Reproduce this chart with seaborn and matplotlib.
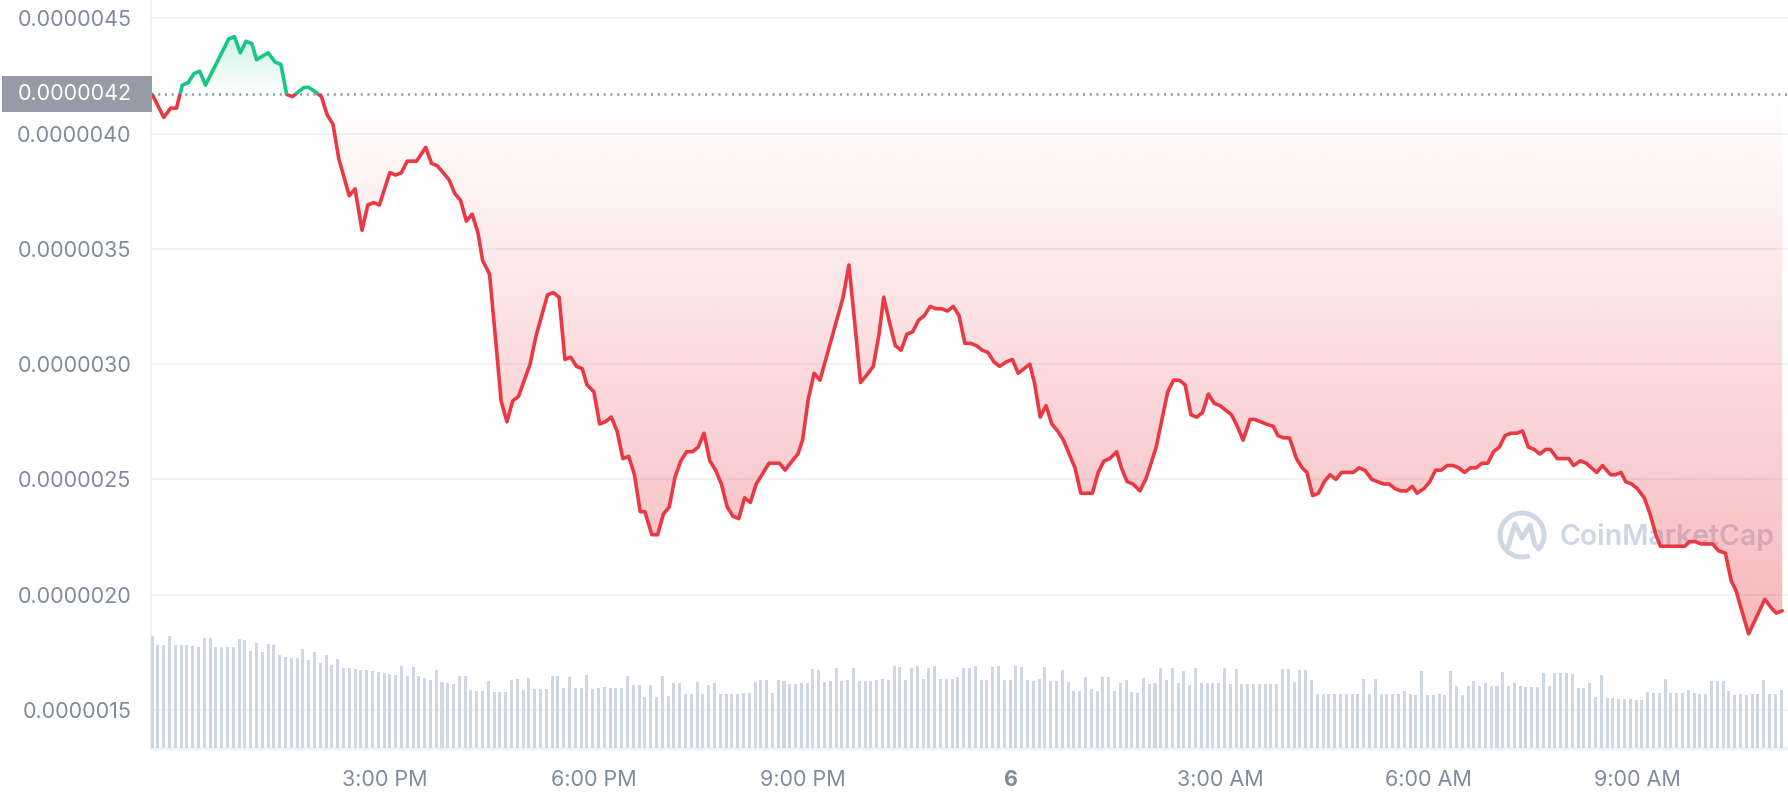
## 24h price chart (CoinMarketCap style) rebuilt with seaborn + matplotlib
import numpy as np
import pandas as pd
import matplotlib
matplotlib.use("Agg")
import matplotlib.pyplot as plt
import matplotlib.dates as mdates
import seaborn as sns
from matplotlib.patches import Rectangle, PathPatch, Arc
from matplotlib.lines import Line2D
from matplotlib.path import Path
from matplotlib.transforms import blended_transform_factory

# minutes after the first sample (11:39 AM) for each price point
price_minutes = [0, 10, 16, 21, 26, 31, 36, 41, 46, 66,
                 71, 76, 81, 86, 90, 100, 106, 111, 116, 121,
                 131, 135, 141, 146, 151, 156, 161, 170, 175, 181,
                 186, 191, 196, 205, 210, 215, 220, 228, 236, 241,
                 246, 256, 261, 266, 271, 276, 281, 285, 291, 296,
                 301, 306, 311, 316, 321, 326, 331, 336, 341, 346,
                 351, 356, 361, 366, 371, 375, 381, 386, 391, 396,
                 401, 406, 411, 416, 421, 425, 431, 436, 441, 446,
                 451, 456, 461, 466, 471, 476, 481, 486, 491, 496,
                 501, 506, 511, 516, 521, 526, 532, 537, 541, 546,
                 552, 557, 561, 566, 571, 576, 581, 586, 591, 596,
                 601, 606, 611, 616, 622, 627, 631, 636, 641, 646,
                 651, 656, 661, 666, 671, 676, 681, 686, 691, 696,
                 701, 706, 711, 716, 721, 726, 731, 737, 742, 747,
                 752, 757, 761, 766, 771, 776, 781, 786, 791, 796,
                 801, 806, 811, 816, 821, 826, 832, 836, 841, 846,
                 852, 857, 861, 866, 871, 876, 881, 886, 891, 896,
                 901, 906, 911, 916, 921, 926, 931, 936, 941, 947,
                 951, 956, 961, 967, 971, 976, 981, 987, 992, 996,
                 1001, 1006, 1011, 1016, 1021, 1026, 1031, 1036, 1041, 1046,
                 1052, 1057, 1062, 1067, 1072, 1077, 1082, 1087, 1091, 1097,
                 1102, 1107, 1112, 1117, 1122, 1127, 1132, 1137, 1142, 1147,
                 1152, 1157, 1162, 1167, 1172, 1177, 1182, 1187, 1192, 1197,
                 1202, 1206, 1212, 1217, 1222, 1226, 1232, 1237, 1246, 1251,
                 1258, 1262, 1267, 1271, 1276, 1281, 1287, 1292, 1297, 1301,
                 1306, 1311, 1317, 1322, 1326, 1331, 1336, 1341, 1346, 1351,
                 1357, 1362, 1366, 1377, 1391, 1397, 1401, 1406]

# price in units of 1e-6
price_values = [4.17, 4.07, 4.11, 4.11, 4.21, 4.22, 4.26, 4.27, 4.21, 4.41,
                4.42, 4.35, 4.40, 4.39, 4.32, 4.35, 4.31, 4.30, 4.17, 4.16,
                4.20, 4.20, 4.18, 4.16, 4.08, 4.04, 3.89, 3.73, 3.76, 3.58,
                3.69, 3.70, 3.69, 3.83, 3.82, 3.83, 3.88, 3.88, 3.94, 3.87,
                3.86, 3.80, 3.74, 3.71, 3.62, 3.65, 3.57, 3.45, 3.39, 3.12,
                2.84, 2.75, 2.84, 2.86, 2.93, 3.00, 3.12, 3.21, 3.30, 3.31,
                3.29, 3.02, 3.03, 2.99, 2.98, 2.91, 2.88, 2.74, 2.75, 2.77,
                2.71, 2.59, 2.60, 2.52, 2.36, 2.36, 2.26, 2.26, 2.35, 2.38,
                2.51, 2.58, 2.62, 2.62, 2.64, 2.70, 2.58, 2.54, 2.48, 2.38,
                2.34, 2.33, 2.42, 2.40, 2.48, 2.52, 2.57, 2.57, 2.57, 2.54,
                2.58, 2.61, 2.67, 2.85, 2.96, 2.93, 3.02, 3.11, 3.20, 3.29,
                3.43, 3.18, 2.92, 2.95, 2.99, 3.13, 3.29, 3.18, 3.08, 3.06,
                3.13, 3.14, 3.19, 3.21, 3.25, 3.24, 3.24, 3.23, 3.25, 3.21,
                3.09, 3.09, 3.08, 3.06, 3.05, 3.01, 2.99, 3.01, 3.02, 2.96,
                2.98, 3.00, 2.92, 2.77, 2.82, 2.74, 2.71, 2.67, 2.61, 2.55,
                2.44, 2.44, 2.44, 2.53, 2.58, 2.59, 2.62, 2.55, 2.49, 2.48,
                2.45, 2.50, 2.56, 2.64, 2.76, 2.88, 2.93, 2.93, 2.91, 2.78,
                2.77, 2.79, 2.87, 2.83, 2.82, 2.80, 2.78, 2.73, 2.67, 2.76,
                2.76, 2.75, 2.74, 2.73, 2.69, 2.68, 2.68, 2.59, 2.55, 2.53,
                2.43, 2.44, 2.49, 2.52, 2.50, 2.53, 2.53, 2.53, 2.55, 2.54,
                2.50, 2.49, 2.48, 2.48, 2.46, 2.45, 2.45, 2.47, 2.44, 2.46,
                2.49, 2.54, 2.54, 2.56, 2.56, 2.55, 2.53, 2.55, 2.55, 2.57,
                2.57, 2.62, 2.64, 2.69, 2.70, 2.70, 2.71, 2.64, 2.63, 2.61,
                2.63, 2.63, 2.59, 2.59, 2.59, 2.56, 2.58, 2.57, 2.53, 2.56,
                2.52, 2.52, 2.53, 2.49, 2.48, 2.46, 2.42, 2.35, 2.26, 2.21,
                2.21, 2.21, 2.21, 2.21, 2.23, 2.23, 2.22, 2.22, 2.22, 2.19,
                2.18, 2.06, 2.02, 1.83, 1.98, 1.94, 1.92, 1.93]

# volume per 5 min bar (relative units)
volume_bars = [112, 103, 103, 112, 103, 103, 103, 102, 101, 110,
               110, 101, 101, 101, 101, 109, 108, 97, 105, 96,
               104, 103, 93, 91, 90, 90, 99, 88, 96, 85,
               93, 83, 89, 80, 80, 79, 78, 78, 77, 76,
               75, 74, 73, 82, 72, 81,
               72, 70, 68, 78, 66, 65, 64, 72, 72, 58,
               57, 57, 67, 56, 56, 56, 68, 69, 58, 70,
               59, 59, 59, 72, 72, 60, 71, 60, 60, 73, 59,
               60, 61, 60, 60, 60, 72, 63, 63, 51, 63,
               51, 72, 52, 65, 65, 54, 54, 66, 54, 63,
               65, 54, 54, 54, 54, 55, 55, 66, 68, 68,
               55, 68, 67, 64, 64, 65, 65, 79, 78, 66,
               67, 80, 67, 68, 80, 67, 67, 67, 68, 69,
               68, 82, 81, 68, 80, 82, 69, 80, 82, 69,
               69, 69, 71, 80, 80, 82, 68, 68, 81, 82,
               68, 68, 82, 81, 68, 67, 69, 81, 67, 67,
               78, 66, 57, 57, 71, 59, 57, 71, 71, 57,
               65, 68, 56, 55, 70, 64, 65, 80, 68, 80,
               65, 77, 63, 80, 65, 65, 65, 65, 80, 64,
               79, 64, 64, 64, 64, 64, 64, 64, 79, 79,
               66, 78, 78, 68, 54, 54, 54, 54, 54, 54,
               54, 54, 69, 54, 69, 54, 54, 54, 54, 57,
               54, 53, 77, 53, 53, 54, 53, 77, 62, 53,
               62, 67, 62, 65, 62, 62, 76, 62, 65, 62,
               61, 61, 61, 75, 62, 75, 75, 75, 74, 60,
               60, 65, 51, 73, 50, 50, 49, 49, 49, 48,
               48, 56, 55, 55, 69, 55, 55, 55, 58, 55,
               54, 54, 67, 67, 67, 57, 53, 54, 53, 54,
               54, 68, 54, 54, 58]

ref_price = 4.173  # opening price, dotted line
ytick_values = [1.5, 2.0, 2.5, 3.0, 3.5, 4.0, 4.5]
xtick_times = ["2023-03-05 15:00", "2023-03-05 18:00", "2023-03-05 21:00",
               "2023-03-06 00:00", "2023-03-06 03:00", "2023-03-06 06:00",
               "2023-03-06 09:00"]
xtick_labels = ["3:00 PM", "6:00 PM", "9:00 PM", "6", "3:00 AM", "6:00 AM", "9:00 AM"]

RED = "#ea3943"
GREEN = "#16c784"
GREY_TXT = "#808a9d"
GRID = "#eff2f5"
BAR = "#cfd6e4"

sns.set_theme(style="white")
plt.rcParams["font.family"] = ["Inter", "DejaVu Sans"]

start = pd.Timestamp("2023-03-05 11:39")
df = pd.DataFrame({
    "time": start + pd.to_timedelta(price_minutes, unit="m"),
    "price": np.array(price_values) * 1e-6,
})
vol = pd.DataFrame({
    "time": pd.date_range(start, periods=len(volume_bars), freq="5min"),
    "volume": volume_bars,
})
refv = ref_price * 1e-6

fig = plt.figure(figsize=(17.88, 8), dpi=100, facecolor="white")
ax = fig.add_axes([151 / 1788, 52 / 800, 1 - 151 / 1788, 748 / 800])

# price line: same data twice, clipped above / below the open price
sns.lineplot(data=df, x="time", y="price", ax=ax, color=RED, linewidth=2.6, zorder=3)
red_line = ax.lines[-1]
sns.lineplot(data=df, x="time", y="price", ax=ax, color=GREEN, linewidth=2.6, zorder=3)
green_line = ax.lines[-1]
band = blended_transform_factory(ax.transAxes, ax.transData)
red_line.set_clip_path(Rectangle((0, 0), 1, refv, transform=band))
green_line.set_clip_path(Rectangle((0, refv), 1, 1e-5, transform=band))

# gradient fills between price and open price
xnum = mdates.date2num(df["time"].values)
y = df["price"].values
x0, x1 = xnum[0], xnum[-1]


def gradient_fill(mask, color, a_bottom, a_top, ylo, yhi):
    fb = ax.fill_between(xnum, y, refv, where=mask, interpolate=True,
                         facecolor="none", edgecolor="none")
    path = Path.make_compound_path(*fb.get_paths())
    fb.remove()
    rgba = np.zeros((256, 1, 4))
    rgba[:, 0, :3] = matplotlib.colors.to_rgb(color)
    rgba[:, 0, 3] = np.linspace(a_bottom, a_top, 256)
    im = ax.imshow(rgba, extent=(x0, x1, ylo, yhi), origin="lower",
                   aspect="auto", interpolation="bilinear", zorder=1)
    im.set_clip_path(PathPatch(path, transform=ax.transData))


gradient_fill(y <= refv, RED, 0.36, 0.0, 1.8e-6, refv)
gradient_fill(y >= refv, GREEN, 0.0, 0.22, refv, 4.43e-6)

ax.axhline(refv, color="#8f96a3", lw=1.8, linestyle=(0, (0.8, 1.9)), zorder=2)

# volume bars on a hidden twin axis
ax2 = ax.twinx()
ax2.bar(vol["time"], vol["volume"], width=2.6 / 1440, color=BAR, linewidth=0)
ax2.set_ylim(0, 748)
ax2.set_yticks([])
for s in ax2.spines.values():
    s.set_visible(False)

# axes styling
ax.set_xlim(start - pd.Timedelta(minutes=1), start + pd.Timedelta(minutes=1411))
ax.set_ylim(1.335e-6, 4.579e-6)
ax.set_yticks(np.array(ytick_values) * 1e-6)
ax.set_yticklabels([f"{v * 1e-6:.7f}" for v in ytick_values])
ax.set_xticks(pd.to_datetime(xtick_times))
ax.set_xticklabels(xtick_labels)
ax.get_xticklabels()[3].set_fontweight("bold")
ax.set_xlabel("")
ax.set_ylabel("")
ax.grid(axis="y", color=GRID, lw=1.3)
ax.set_axisbelow(True)
ax.tick_params(axis="y", length=0, pad=14, labelsize=15.5, labelcolor=GREY_TXT)
ax.tick_params(axis="x", length=6, width=1.5, color=GREY_TXT, pad=10,
               labelsize=15.5, labelcolor=GREY_TXT)
ax.spines["top"].set_visible(False)
ax.spines["right"].set_visible(False)
ax.spines["left"].set_color(GRID)
ax.spines["left"].set_linewidth(1.5)
ax.spines["bottom"].set_color(GRID)
ax.spines["bottom"].set_linewidth(2.5)

# open-price tag on the left
tag = blended_transform_factory(fig.transFigure, ax.transData)
h = 36 / 230.6 * 1e-6
ax.add_artist(Rectangle((2 / 1788, refv - h / 2), 150 / 1788, h, transform=tag,
                        facecolor="#969ba8", edgecolor="none", clip_on=False, zorder=5))
ax.text(132 / 1788, refv, f"{ref_price * 1e-6:.7f}", transform=tag, ha="right",
        va="center", color="white", fontsize=15.5, zorder=6, clip_on=False)

# watermark
ax.text(1560 / 1788, 263 / 800, "CoinMarketCap", transform=fig.transFigure,
        fontsize=20.5, fontweight="semibold", color=BAR, ha="left", va="center", zorder=0.8)
ax.add_artist(Arc((15.22, 2.65), 0.44, 0.44, theta1=-35, theta2=290,
                  transform=fig.dpi_scale_trans, color=BAR, lw=3.5, zorder=0.8, clip_on=False))
ax.add_artist(Line2D(15.22 + np.array([-0.14, -0.07, 0.0, 0.08, 0.13, 0.17]),
                     2.65 + np.array([-0.12, 0.11, -0.03, 0.10, -0.10, -0.14]),
                     transform=fig.dpi_scale_trans, color=BAR, lw=3.5,
                     solid_joinstyle="round", solid_capstyle="round", zorder=0.8, clip_on=False))

fig.savefig("out.png", dpi=100)
